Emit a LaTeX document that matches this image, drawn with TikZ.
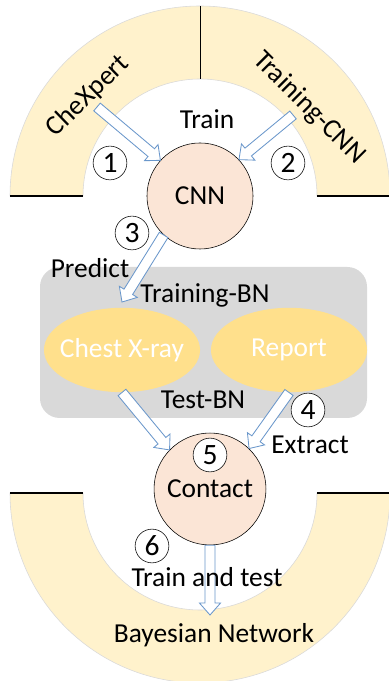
\documentclass[tikz,border=0pt]{standalone}
\usepackage{fontspec}
\setmainfont{Carlito}
\usepackage{tikz}
\usetikzlibrary{shapes,               % ellipses
           calc}                      % coordinates between $ $
\definecolor{sa}{HTML}{FFF2CC}
\definecolor{pe}{HTML}{FBE5D6}
\definecolor{jo}{HTML}{FFE08C}
\definecolor{gr}{HTML}{D9D9D9}
\definecolor{bl}{HTML}{6A97CB}

\begin{document}
\begin{tikzpicture}[x=0.025cm,y=0.025cm,
  every node/.style={font=\fontsize{19.5}{23}\selectfont},
  rond/.style={circle,draw=black,fill=pe,inner sep=0pt},
  num/.style={circle,draw=black,fill=white,inner sep=0pt,minimum size=24pt,font=\fontsize{21}{24}\selectfont},
  ell/.style={ellipse,fill=jo,inner sep=0pt,minimum width=111pt,minimum height=60pt},
  fl/.style={draw=bl,fill=white,line width=0.6pt,line join=miter}]
\def\bloc#1#2{%
\coordinate (cou) at ($(#2)!8.5pt!(#1)$);
\draw[fl] ($(#1)!3.6pt!90:(#2)$)--($(cou)!3.6pt!90:(#2)$)--($(cou)!7.5pt!90:(#2)$)--(#2)
  --($(cou)!7.5pt!-90:(#2)$)--($(cou)!3.6pt!-90:(#2)$)--($(#1)!3.6pt!-90:(#2)$)--cycle;}
\useasboundingbox (0,0) rectangle (388,681);
\fill[sa,draw=black!15](10,485)arc[start angle=180,end angle=0,radius=190]--(317,485)
  arc[start angle=0,end angle=180,radius=117]--cycle;
\fill[sa,draw=black!15](10,188)arc[start angle=180,end angle=360,radius=190]--(317,188)
  arc[start angle=360,end angle=180,radius=117]--cycle;
\draw(200,602)--(200,675);
\draw[line width=1.4pt](10,485)--(83,485) (317,485)--(390,485);
\draw[line width=1.4pt](10,188)--(83,188) (317,188)--(390,188);
\fill[gr,rounded corners=14pt](40,263)rectangle(367,414);
\node[rond,minimum size=75.4pt] (cnn) at (200,485) {CNN};
\node[rond,minimum size=79.6pt] (contact) at (210,192) {};
\node[ell,label={[text=white]center:Chest X-ray}] (chest) at (122,331) {};
\node[ell,label={[text=white]center:Report}] (report) at (289,331) {};
\coordinate (d1) at (97,574);
\coordinate (d2) at (293,566);
\coordinate (p3) at (122,379);
\coordinate (bn) at (210,66);
\bloc{d1}{cnn.138}
\bloc{d2}{cnn.43}
\bloc{cnn.227}{p3}
\bloc{chest.south}{contact.136}
\bloc{report.south}{contact.46}
\bloc{contact.south}{bn}
\node[rotate=44] (chex) at (88,585) {CheXpert};
\node[rotate=-45] (trcnn) at (309,573) {Training-CNN};
\node (train) at (207,562) {Train};
\node (predict) at (90,413) {Predict};
\node (trbn) at (205,386) {Training-BN};
\node (testbn) at (203,281) {Test-BN};
\node (extract) at (310,236) {Extract};
\node at (contact.center) {Contact};
\node (trtest) at (207,104) {Train and test};
\node (bayes) at (214,46) {Bayesian Network};
\node[num] (n1) at (110,518) {1};
\node[num] (n2) at (288,518) {2};
\node[num] (n3) at (132,448) {3};
\node[num] (n4) at (308,271) {4};
\node[num] (n5) at (210,226) {5};
\node[num] (n6) at (152,135) {6};
\end{tikzpicture}
\end{document}
